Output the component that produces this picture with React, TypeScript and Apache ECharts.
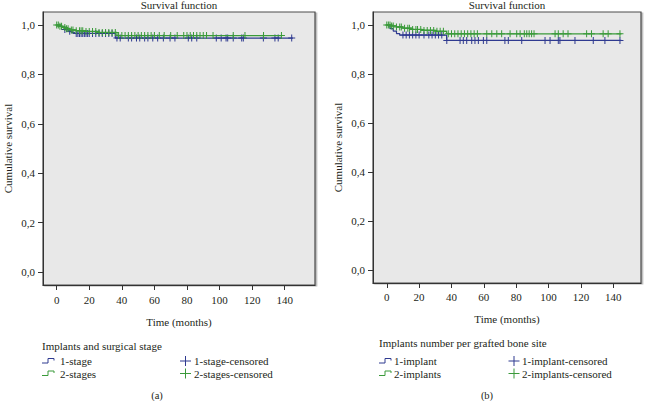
import { useEffect, useRef } from 'react';
import * as echarts from 'echarts';

const chartTitle = 'Survival function';
const xAxisName = 'Time (months)';
const yAxisName = 'Cumulative survival';
const xTicks = [0, 20, 40, 60, 80, 100, 120, 140];
const yTicks = [0, 0.2, 0.4, 0.6, 0.8, 1.0];
const panelLabels = ['(a)', '(b)'];

// Panel (a): Implants and surgical stage
const aLegendTitle = 'Implants and surgical stage';
const aNames = ['1-stage', '2-stages', '1-stage-censored', '2-stages-censored'];
const aStage1Times = [0, 3, 5, 7, 9, 11, 36, 145];
const aStage1Surv = [1.0, 0.99, 0.982, 0.975, 0.969, 0.966, 0.947, 0.947];
const aStage1Censored = [5, 8, 12, 13, 14, 15, 16, 17, 18, 19, 20, 22, 24, 26, 28, 30, 32, 34,
  37, 39, 44, 46, 49, 51, 54, 56, 59, 62, 65.5, 69.6, 72.6, 80.8, 82.9, 86, 98, 101, 104, 105,
  108.4, 113.6, 114.6, 126.9, 134, 136, 144.3];
const aStage2Times = [0, 2, 4, 6, 8, 12, 18, 26, 37, 138];
const aStage2Surv = [1.0, 0.995, 0.99, 0.985, 0.98, 0.977, 0.974, 0.97, 0.957, 0.957];
const aStage2Censored = [0, 1, 2, 3, 5, 6, 7, 9, 10, 12, 14, 15, 16, 18, 20, 22, 24, 26, 28, 30,
  32, 34, 36, 38, 40, 42, 44, 46, 48, 50, 52, 54, 56, 58, 60, 63, 66, 70, 74, 78, 80, 82, 84, 86,
  88, 90, 92, 96, 108.4, 115.6, 127, 138];

// Panel (b): Implants number per grafted bone site
const bLegendTitle = 'Implants number per grafted bone site';
const bNames = ['1-implant', '2-implants', '1-implant-censored', '2-implants-censored'];
const bImpl1Times = [0, 2, 4, 6, 8, 37, 145];
const bImpl1Surv = [1.0, 0.985, 0.975, 0.965, 0.959, 0.937, 0.937];
const bImpl1Censored = [10, 12, 14, 16, 18, 20, 23, 26, 28, 30, 32, 34, 37.1, 45.3, 47.3, 49.4,
  52.5, 54.5, 56.6, 59.7, 61.8, 73, 75.1, 83.4, 97.8, 100.9, 106, 107, 116.3, 127.6, 134.8, 144.1];
const bImpl2Times = [0, 3, 6, 10, 16, 22, 30, 37, 145];
const bImpl2Surv = [1.0, 0.996, 0.992, 0.987, 0.982, 0.978, 0.974, 0.964, 0.964];
const bImpl2Censored = [0, 1, 2, 3, 4, 6, 8, 9, 11, 13, 14, 16, 18, 19, 21, 23, 25, 27, 29, 31,
  33, 35, 38, 40, 42, 44, 46, 48, 50, 52, 54, 56, 61.8, 64.9, 68, 71, 76.2, 80.3, 82.4, 85, 86.5,
  88, 89.5, 91, 104, 106, 109, 112, 123.5, 126.5, 133.7, 136.8, 144.1];

const BLUE = '#2f3a90';
const GREEN = '#3a9a3a';
const TEXT = '#231f20';
const FONT = 'Liberation Serif';
const PLUS = 'path://M3.85,0H5.15V9H3.85ZM0,3.85H9V5.15H0Z';

function survAt(times: number[], surv: number[], t: number) {
  let s = surv[0];
  for (let i = 0; i < times.length; i++) if (times[i] <= t) s = surv[i];
  return s;
}
const steps = (times: number[], surv: number[]) => times.map((t, i) => [t, surv[i]]);
const cens = (times: number[], surv: number[], c: number[]) => c.map((t) => [t, survAt(times, surv, t)]);

export default function App() {
  const ref = useRef<HTMLDivElement>(null);
  useEffect(() => {
    if (!ref.current) return;
    const chart = echarts.init(ref.current, undefined, { renderer: 'svg' });

    const grids = [
      { left: 43, top: 12, width: 272, height: 273 },
      { left: 373, top: 12, width: 268, height: 271 },
    ];
    const xRanges = [[-8.4, 158.6], [-8.5, 157.1]];
    const yRanges = [[-0.0526, 1.0526], [-0.053, 1.053]];

    const gridOpts = grids.map((g) => ({
      ...g,
      show: true,
      backgroundColor: '#e8e8e8',
      borderColor: '#4a4a4a',
      borderWidth: 1.2,
      shadowColor: 'rgba(0,0,0,0.3)',
      shadowBlur: 1.5,
      shadowOffsetX: 1.5,
      shadowOffsetY: 1,
    }));

    const axisCommon = {
      axisLine: { show: true, onZero: false, lineStyle: { color: '#333', width: 1 } },
      axisTick: { show: true, length: 5, lineStyle: { color: '#333', width: 1 } },
      splitLine: { show: false },
      nameTextStyle: { fontFamily: FONT, fontSize: 11, color: TEXT },
    };

    const xAxes = [0, 1].map((i) => ({
      ...axisCommon,
      gridIndex: i,
      type: 'value',
      min: xRanges[i][0],
      max: xRanges[i][1],
      axisTick: { ...axisCommon.axisTick, customValues: xTicks },
      axisLabel: { customValues: xTicks, margin: i === 0 ? 9 : 8, fontFamily: FONT, fontSize: 11, color: TEXT },
      name: xAxisName,
      nameLocation: 'middle',
      nameGap: i === 0 ? 31 : 30,
    }));
    const yAxes = [0, 1].map((i) => ({
      ...axisCommon,
      gridIndex: i,
      type: 'value',
      min: yRanges[i][0],
      max: yRanges[i][1],
      axisTick: { ...axisCommon.axisTick, customValues: yTicks },
      axisLabel: {
        customValues: yTicks,
        margin: 8,
        fontFamily: FONT,
        fontSize: 11,
        color: TEXT,
        formatter: (v: number) => v.toFixed(1).replace('.', ','),
      },
      name: yAxisName,
      nameLocation: 'middle',
      nameGap: 30,
    }));

    const lineS = (idx: number, name: string, data: number[][], color: string, z: number) => ({
      type: 'line', name, xAxisIndex: idx, yAxisIndex: idx, data, step: 'end',
      showSymbol: false, lineStyle: { color, width: 1.2 }, itemStyle: { color }, z,
    });
    const scatS = (idx: number, name: string, data: number[][], color: string, z: number) => ({
      type: 'scatter', name, xAxisIndex: idx, yAxisIndex: idx, data, symbol: PLUS,
      symbolSize: 7, itemStyle: { color, opacity: 1 }, z,
    });

    const series = [
      lineS(0, aNames[0], steps(aStage1Times, aStage1Surv), BLUE, 2),
      scatS(0, aNames[2], cens(aStage1Times, aStage1Surv, aStage1Censored), BLUE, 3),
      lineS(0, aNames[1], steps(aStage2Times, aStage2Surv), GREEN, 4),
      scatS(0, aNames[3], cens(aStage2Times, aStage2Surv, aStage2Censored), GREEN, 5),
      lineS(1, bNames[0], steps(bImpl1Times, bImpl1Surv), BLUE, 2),
      scatS(1, bNames[2], cens(bImpl1Times, bImpl1Surv, bImpl1Censored), BLUE, 3),
      lineS(1, bNames[1], steps(bImpl2Times, bImpl2Surv), GREEN, 4),
      scatS(1, bNames[3], cens(bImpl2Times, bImpl2Surv, bImpl2Censored), GREEN, 5),
    ];

    const txt = (x: number, y: number, text: string, align = 'left', size = 11) => ({
      type: 'text', x, y,
      style: { text, fontFamily: FONT, fontSize: size, fill: TEXT, align, verticalAlign: 'middle' },
    });
    const stepIcon = (x: number, y: number, color: string) => ({
      type: 'polyline',
      shape: { points: [[x, y + 2], [x + 6, y + 2], [x + 6, y - 2.5], [x + 12, y - 2.5], [x + 12, y - 0.5]] },
      style: { stroke: color, lineWidth: 1, fill: 'none' },
    });
    const plusIcon = (cx: number, cy: number, color: string) => ({
      type: 'group',
      children: [
        { type: 'line', shape: { x1: cx - 5.5, y1: cy, x2: cx + 5.5, y2: cy }, style: { stroke: color, lineWidth: 1 } },
        { type: 'line', shape: { x1: cx, y1: cy - 5, x2: cx, y2: cy + 5 }, style: { stroke: color, lineWidth: 1 } },
      ],
    });

    const legends = [
      { title: aLegendTitle, names: aNames, tx: 42, ty: 346, r1: 361, r2: 373.5, c1: 42, t1: 60, c2: 185.5, t2: 194, lab: 157 },
      { title: bLegendTitle, names: bNames, tx: 379, ty: 343, r1: 361, r2: 373.5, c1: 379, t1: 394, c2: 514, t2: 522, lab: 487 },
    ];
    const graphics: any[] = [];
    legends.forEach((L, i) => {
      const g = grids[i];
      graphics.push(txt(g.left + g.width / 2, 5, chartTitle, 'center'));
      graphics.push(txt(L.tx, L.ty, L.title));
      graphics.push(stepIcon(L.c1, L.r1, BLUE));
      graphics.push(txt(L.t1, L.r1, L.names[0]));
      graphics.push(stepIcon(L.c1, L.r2, GREEN));
      graphics.push(txt(L.t1, L.r2, L.names[1]));
      graphics.push(plusIcon(L.c2, L.r1, BLUE));
      graphics.push(txt(L.t2, L.r1, L.names[2]));
      graphics.push(plusIcon(L.c2, L.r2, GREEN));
      graphics.push(txt(L.t2, L.r2, L.names[3]));
      graphics.push(txt(L.lab, 395, panelLabels[i], 'center', 10.5));
    });

    chart.setOption({
      animation: false,
      backgroundColor: '#ffffff',
      grid: gridOpts,
      xAxis: xAxes,
      yAxis: yAxes,
      series,
      graphic: graphics,
    } as any);
    return () => chart.dispose();
  }, []);
  return <div ref={ref} style={{ position: 'fixed', left: 0, top: 0, width: 646, height: 401 }} />;
}
